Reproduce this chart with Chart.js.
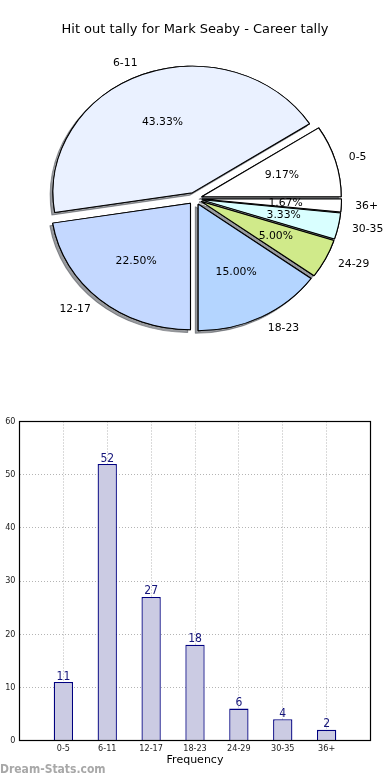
<!DOCTYPE html>
<html>
<head>
<meta charset="utf-8">
<script src="https://cdn.jsdelivr.net/npm/chart.js@4.4.1/dist/chart.umd.min.js"></script>
<style>
	html, body { margin: 0; padding: 0; background: #fff; }
	#wrap { position: relative; width: 390px; height: 780px; overflow: hidden; }
	#pie-chart { position: absolute; left: 0; top: 0; }
	#bar-chart { position: absolute; left: 0; top: 390px; }
	#watermark {
		position: absolute; left: 0; top: 762px;
		font: bold 12px "DejaVu Sans Condensed", "DejaVu Sans", sans-serif;
		color: #a8a8a8;
	}
</style>
</head>
<body>
<div id="wrap">
	<canvas id="pie-chart" width="390" height="400"></canvas>
	<canvas id="bar-chart" width="390" height="390"></canvas>
	<div id="watermark">Dream-Stats.com</div>
</div>
<script>
// Data
const title = 'Hit out tally for Mark Seaby - Career tally';
const categories = ['0-5', '6-11', '12-17', '18-23', '24-29', '30-35', '36+'];
const counts = [11, 52, 27, 18, 6, 4, 2];
const sliceColors = ['#ffffff', '#eaf1ff', '#c4d8ff', '#b4d5ff', '#d0ea8a', '#d9ffff', '#ffffff'];
const yTicks = [0, 10, 20, 30, 40, 50, 60];
const xAxisLabel = 'Frequency';

const FONT = '"DejaVu Sans", sans-serif';
const NARROW = '"DejaVu Sans Condensed", "Liberation Sans Narrow", "DejaVu Sans", sans-serif';

// the pie in the reference is an ellipse, wider than it is tall
const STRETCH_X = 1.103;
const EXPLODE = 6.3;

const total = counts.reduce((a, b) => a + b, 0);

// matplotlib goes counter-clockwise from 3 o'clock, chart.js clockwise,
// so feed the slices in reverse and start at 90deg
const pieLabels = categories.slice().reverse();
const pieValues = counts.slice().reverse();
const pieColors = sliceColors.slice().reverse();

function ellipseFrame(ctx, cx, cy) {
	ctx.translate(cx, cy);
	ctx.scale(STRETCH_X, 1);
	ctx.translate(-cx, -cy);
}

const explodedPie = {
	id: 'explodedPie',
	beforeDatasetDraw(chart, args) {
		const ctx = chart.ctx;
		const arcs = args.meta.data;
		// first pass casts the shadows, second pass draws the wedges on top
		[true, false].forEach(shadow => {
			arcs.forEach(arc => {
				const mid = (arc.startAngle + arc.endAngle) / 2;
				ctx.save();
				ellipseFrame(ctx, arc.x, arc.y);
				ctx.translate(Math.cos(mid) * EXPLODE, Math.sin(mid) * EXPLODE);
				if (shadow) {
					ctx.shadowColor = 'rgba(70, 72, 80, 0.55)';
					ctx.shadowOffsetX = -2.8;
					ctx.shadowOffsetY = 2.6;
				}
				arc.draw(ctx);
				ctx.restore();
			});
		});
		return false;
	},
	afterDatasetsDraw(chart) {
		const ctx = chart.ctx;
		const meta = chart.getDatasetMeta(0);
		ctx.save();
		ctx.font = '10.8px ' + FONT;
		ctx.fillStyle = '#000';
		ctx.textBaseline = 'middle';
		meta.data.forEach((arc, i) => {
			const mid = (arc.startAngle + arc.endAngle) / 2;
			const r = arc.outerRadius;
			const at = d => ({
				x: arc.x + STRETCH_X * Math.cos(mid) * (EXPLODE + d * r),
				y: arc.y + Math.sin(mid) * (EXPLODE + d * r)
			});
			const pct = (pieValues[i] / total * 100).toFixed(2) + '%';
			const p = at(0.6);
			ctx.textAlign = 'center';
			ctx.fillText(pct, p.x, p.y);
			const l = at(1.1);
			ctx.textAlign = Math.cos(mid) > 0 ? 'left' : 'right';
			ctx.fillText(pieLabels[i], l.x, l.y);
		});
		ctx.restore();
	}
};

new Chart(document.getElementById('pie-chart'), {
	type: 'pie',
	data: {
		labels: pieLabels,
		datasets: [{
			data: pieValues,
			backgroundColor: pieColors,
			borderColor: '#000',
			borderWidth: 1
		}]
	},
	options: {
		responsive: false,
		animation: false,
		rotation: 90,
		radius: 126.5,
		layout: {
			padding: { top: 0, left: 0, right: 0, bottom: 50 }
		},
		plugins: {
			legend: { display: false },
			tooltip: { enabled: false },
			title: {
				display: true,
				text: title,
				color: '#000',
				font: { family: FONT, size: 13, weight: 'normal' },
				padding: { top: 21.5, bottom: 10 }
			}
		}
	},
	plugins: [explodedPie]
});

// ---- bar chart ----
// one empty slot on each side so the bars sit a full step in from the frame
const barLabels = [''].concat(categories, ['']);
const barValues = [null].concat(counts, [null]);

const frameBox = {
	id: 'frameBox',
	afterDraw(chart) {
		const a = chart.chartArea;
		const ctx = chart.ctx;
		ctx.save();
		ctx.strokeStyle = '#000';
		ctx.lineWidth = 1.2;
		ctx.strokeRect(a.left, a.top, a.right - a.left, a.bottom - a.top);
		ctx.restore();
	}
};

const barValueLabels = {
	id: 'barValueLabels',
	afterDatasetsDraw(chart) {
		const ctx = chart.ctx;
		const meta = chart.getDatasetMeta(0);
		ctx.save();
		ctx.font = '12px ' + NARROW;
		ctx.fillStyle = '#14147a';
		ctx.textAlign = 'center';
		ctx.textBaseline = 'alphabetic';
		meta.data.forEach((bar, i) => {
			const v = barValues[i];
			if (v === null) return;
			ctx.fillText(String(v), bar.x, bar.y - 2.5);
		});
		ctx.restore();
	}
};

const gridStyle = {
	color: '#b4b4b4',
	lineWidth: 1,
	drawTicks: false,
	offset: false
};

new Chart(document.getElementById('bar-chart'), {
	type: 'bar',
	data: {
		labels: barLabels,
		datasets: [{
			data: barValues,
			backgroundColor: '#cbcbe3',
			borderColor: '#000080',
			borderWidth: 1.3,
			barPercentage: 0.44,
			categoryPercentage: 1
		}]
	},
	options: {
		responsive: false,
		animation: false,
		layout: {
			padding: { top: 31.5, right: 19.5, left: 0, bottom: 0 }
		},
		plugins: {
			legend: { display: false },
			tooltip: { enabled: false }
		},
		scales: {
			x: {
				offset: false,
				z: 1,
				grid: gridStyle,
				border: { display: false, dash: [1, 2] },
				ticks: {
					autoSkip: false,
					maxRotation: 0,
					padding: 3,
					color: '#222',
					font: { family: NARROW, size: 9 }
				},
				title: {
					display: true,
					text: xAxisLabel,
					color: '#000',
					font: { family: FONT, size: 11 },
					padding: { top: 0, bottom: 13 }
				},
				afterFit(scale) { scale.height = 39.5; }
			},
			y: {
				min: yTicks[0],
				max: yTicks[yTicks.length - 1],
				z: 1,
				grid: gridStyle,
				border: { display: false, dash: [1, 2] },
				afterBuildTicks(scale) {
					scale.ticks = yTicks.map(v => ({ value: v }));
				},
				ticks: {
					padding: 4,
					color: '#222',
					font: { family: NARROW, size: 9 }
				},
				afterFit(scale) { scale.width = 19.5; }
			}
		}
	},
	plugins: [frameBox, barValueLabels]
});
</script>
</body>
</html>
